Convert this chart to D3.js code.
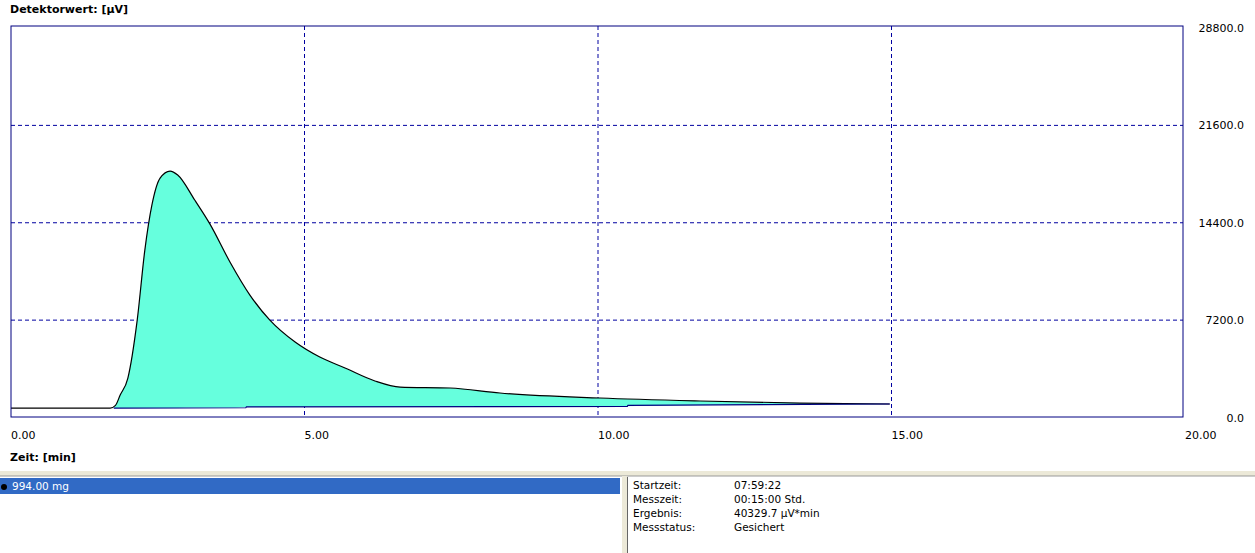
<!DOCTYPE html>
<html><head><meta charset="utf-8">
<script src="https://cdn.jsdelivr.net/npm/d3@7"></script>
<style>body{margin:0;background:#fff;font-family:"DejaVu Sans",sans-serif}</style>
</head><body><svg id="c" width="1255" height="553"></svg>
<script>
const xTicks=[0,5,10,15,20];
const yTicks=[0,7200,14400,21600,28800];
const times=[0,1.69,1.78,1.86,1.99,2.15,2.28,2.40,2.54,2.71,2.84,3.13,3.39,3.73,4.07,4.41,4.84,5.26,5.69,6.2,6.63,7.48,8.33,10.03,11.74,13.44,14.97];
const values=[700,700,900,1660,2900,7200,12380,15700,17700,18220,17930,16080,14300,11500,9050,7200,5580,4470,3660,2700,2250,2180,1810,1440,1220,1070,1000];
const baseT=[1.75,4.0,4.01,10.5,10.51,14.97];
const baseV=[700,720,780,820,900,1000];
const infoLabels=["Startzeit:","Messzeit:","Ergebnis:","Messstatus:"];
const infoValues=["07:59:22","00:15:00 Std.","40329.7 µV*min","Gesichert"];

const svg=d3.select("#c");
const x=d3.scaleLinear().domain([0,20]).range([11,1185]);
const y=d3.scaleLinear().domain([0,28800]).range([417.5,28]);
const f="DejaVu Sans";
// grid
svg.selectAll(".gx").data(xTicks.slice(1,-1)).join("line").attr("x1",d=>x(d)).attr("x2",d=>x(d)).attr("y1",26).attr("y2",417).attr("stroke","#0000a0").attr("stroke-dasharray","4,3");
svg.selectAll(".gy").data(yTicks.slice(1,-1)).join("line").attr("y1",d=>y(d)).attr("y2",d=>y(d)).attr("x1",11).attr("x2",1183).attr("stroke","#0000a0").attr("stroke-dasharray","4,3");
// area
const pts=times.map((t,i)=>[t,values[i]]);
const baseAt=t=>{ if(t<=baseT[0])return null; for(let i=1;i<baseT.length;i++) if(t<=baseT[i]) return baseV[i-1]+(baseV[i]-baseV[i-1])*(t-baseT[i-1])/(baseT[i]-baseT[i-1]); return baseV[baseV.length-1];};
const fillPts=pts.filter(p=>p[0]>=1.75);
fillPts.unshift([1.75,700]);
svg.append("path").datum(fillPts).attr("fill","#66ffdd").attr("d",d3.area().x(d=>x(d[0])).y1(d=>y(d[1])).y0(d=>y(baseAt(d[0])||700)).curve(d3.curveMonotoneX));
svg.append("path").datum(pts).attr("fill","none").attr("stroke","#000").attr("stroke-width",1.2).attr("d",d3.line().x(d=>x(d[0])).y(d=>y(d[1])).curve(d3.curveMonotoneX));
svg.append("path").datum(baseT.map((t,i)=>[t,baseV[i]])).attr("fill","none").attr("stroke","#000080").attr("stroke-width",1.2).attr("d",d3.line().x(d=>x(d[0])).y(d=>y(d[1])));
// frame
svg.append("rect").attr("x",11).attr("y",26).attr("width",1172).attr("height",391).attr("fill","none").attr("stroke","#000080");
// labels
svg.selectAll(".xl").data(xTicks).join("text").attr("x",d=>x(d)).attr("y",439).attr("font-family",f).attr("font-size",11).text(d=>d.toFixed(2));
svg.selectAll(".yl").data(yTicks).join("text").attr("x",1244).attr("y",d=>y(d)+4).attr("text-anchor","end").attr("font-family",f).attr("font-size",11).text(d=>d.toFixed(1));
svg.append("text").attr("x",10).attr("y",13).attr("font-family",f).attr("font-size",11).attr("font-weight","bold").text("Detektorwert: [µV]");
svg.append("text").attr("x",10).attr("y",461).attr("font-family",f).attr("font-size",11).attr("font-weight","bold").text("Zeit: [min]");
// bottom panel
svg.append("rect").attr("x",0).attr("y",471).attr("width",1255).attr("height",5).attr("fill","#ece9d8");
svg.append("line").attr("x1",0).attr("x2",1255).attr("y1",476).attr("y2",476).attr("stroke","#999");
svg.append("rect").attr("x",0).attr("y",478).attr("width",620).attr("height",16).attr("fill","#316ac5");
svg.append("circle").attr("cx",4).attr("cy",487).attr("r",3).attr("fill","#000");
svg.append("text").attr("x",12).attr("y",490).attr("font-family",f).attr("font-size",10.5).attr("fill","#fff").text("994.00 mg");
svg.append("rect").attr("x",622).attr("y",476).attr("width",5).attr("height",77).attr("fill","#ece9d8");
svg.append("line").attr("x1",627.5).attr("x2",627.5).attr("y1",477).attr("y2",553).attr("stroke","#666");
svg.selectAll(".il").data(infoLabels).join("text").attr("x",633).attr("y",(d,i)=>489+i*14).attr("font-family",f).attr("font-size",10.5).text(d=>d);
svg.selectAll(".iv").data(infoValues).join("text").attr("x",734).attr("y",(d,i)=>489+i*14).attr("font-family",f).attr("font-size",10.5).text(d=>d);
</script></body></html>
